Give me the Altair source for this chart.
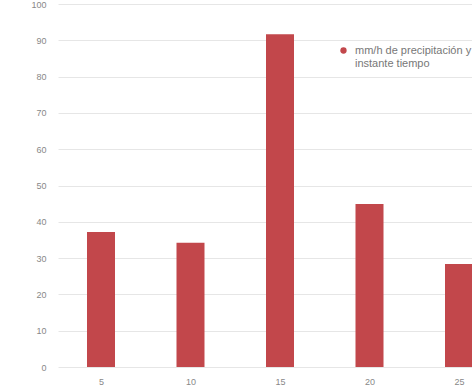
import altair as alt
import pandas as pd

# data
tiempos = [5, 10, 15, 20, 25]
precipitacion = [37.2, 34.2, 91.7, 44.9, 28.4]
serie = "mm/h de precipitación y|instante tiempo"
y_ticks = [0, 10, 20, 30, 40, 50, 60, 70, 80, 90, 100]

df = pd.DataFrame({"t": tiempos, "p": precipitacion, "serie": [serie] * len(tiempos)})

red = "#c2474b"

bars = alt.Chart(df).mark_bar(size=28, color=red, clip=True).encode(
    x=alt.X("t:Q", scale=alt.Scale(domain=[2.598, 25.726], nice=False, zero=False, padding=0),
            axis=alt.Axis(values=tiempos, grid=False, ticks=False, domain=False,
                          labelColor="#888888", labelFontSize=9, labelPadding=10,
                          title=None, labelFont="Liberation Sans")),
    y=alt.Y("p:Q", scale=alt.Scale(domain=[0, 100], nice=False),
            axis=alt.Axis(values=y_ticks, grid=True, gridColor="#e6e6e6", ticks=False,
                          domain=False, labelColor="#888888", labelFontSize=9,
                          labelPadding=12, title=None, labelFont="Liberation Sans")),
    color=alt.Color("serie:N", scale=alt.Scale(range=[red]),
                    legend=alt.Legend(orient="none", legendX=280, legendY=41,
                                      title=None, symbolType="circle", symbolSize=40,
                                      labelExpr="split(datum.label, '|')",
                                      labelFontSize=11, labelColor="#777777",
                                      labelOffset=6,
                                      labelLimit=1000, labelFont="Liberation Sans")),
)

chart = bars.properties(
    width=414, height=363,
    autosize=alt.AutoSizeParams(type="none"),
    padding={"left": 58, "top": 4, "right": 0, "bottom": 23},
).configure(background="white", view=alt.ViewConfig(stroke=None))

chart.save("out.html", embed_options={"renderer": "svg", "actions": False})
